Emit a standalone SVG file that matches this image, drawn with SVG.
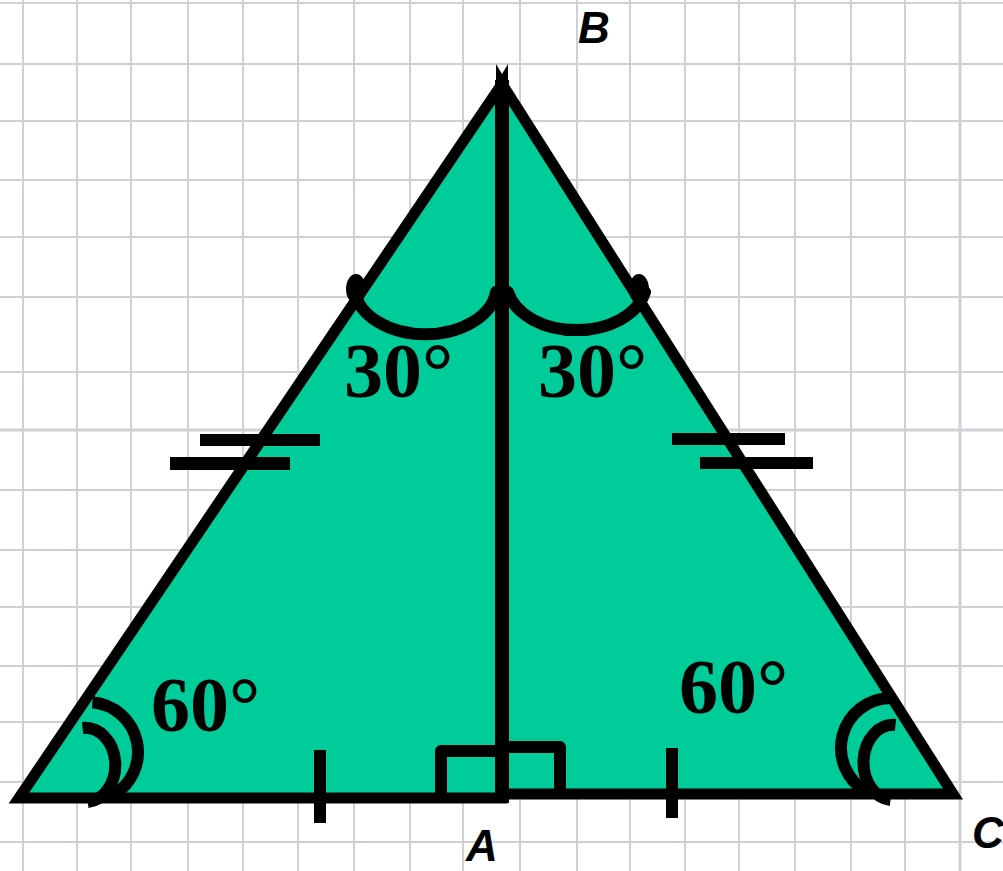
<svg xmlns="http://www.w3.org/2000/svg" width="1003" height="871" viewBox="0 0 1003 871">
<style>
.grid line{stroke:#cfcfd6;stroke-width:2}
.ink{fill:none;stroke:#000;stroke-width:12}
.deg{font-family:"Liberation Serif","Times New Roman",serif;font-weight:bold;font-size:78px;fill:#000}
.lbl{font-family:"Liberation Sans",Arial,sans-serif;font-weight:bold;font-style:italic;font-size:44px;fill:#000}
</style>
<rect width="1003" height="871" fill="#ffffff"/>
<g id="grid" class="grid">
<line x1="23" y1="0" x2="23" y2="871"/><line x1="77" y1="0" x2="77" y2="871"/><line x1="131" y1="0" x2="131" y2="871"/><line x1="188" y1="0" x2="188" y2="871"/><line x1="243" y1="0" x2="243" y2="871"/><line x1="298" y1="0" x2="298" y2="871"/><line x1="354" y1="0" x2="354" y2="871"/><line x1="410" y1="0" x2="410" y2="871"/><line x1="463" y1="0" x2="463" y2="871"/><line x1="520" y1="0" x2="520" y2="871"/><line x1="577" y1="0" x2="577" y2="871"/><line x1="630" y1="0" x2="630" y2="871"/><line x1="685" y1="0" x2="685" y2="871"/><line x1="739" y1="0" x2="739" y2="871"/><line x1="795" y1="0" x2="795" y2="871"/><line x1="851" y1="0" x2="851" y2="871"/><line x1="905" y1="0" x2="905" y2="871"/><line x1="960" y1="0" x2="960" y2="871" style="stroke-width:3"/>
<line x1="0" y1="3" x2="1003" y2="3"/><line x1="0" y1="64" x2="1003" y2="64"/><line x1="0" y1="121" x2="1003" y2="121"/><line x1="0" y1="180" x2="1003" y2="180"/><line x1="0" y1="237" x2="1003" y2="237"/><line x1="0" y1="297" x2="1003" y2="297"/><line x1="0" y1="372" x2="1003" y2="372"/><line x1="0" y1="430" x2="1003" y2="430" style="stroke-width:3"/><line x1="0" y1="490" x2="1003" y2="490"/><line x1="0" y1="550" x2="1003" y2="550"/><line x1="0" y1="607" x2="1003" y2="607"/><line x1="0" y1="666" x2="1003" y2="666"/><line x1="0" y1="722" x2="1003" y2="722"/><line x1="0" y1="782" x2="1003" y2="782"/><line x1="0" y1="842" x2="1003" y2="842"/>
</g>
<g id="triangle">
<polygon points="19,798 502,798 502,794 953,794 502,84" fill="#00CC99" stroke="#000" stroke-width="11" stroke-linejoin="miter" stroke-miterlimit="10"/>
</g>
<g id="median">
<line x1="502" y1="80" x2="502" y2="803" stroke="#000" stroke-width="14"/>
<polygon points="496,64 502,74 508,64 508,84 496,84" fill="#000"/>
</g>
<g id="marks">
<path class="ink" d="M441 798 V751 H502" stroke-width="11" stroke-linejoin="round"/>
<path class="ink" d="M502 747 H560 V794" stroke-width="11" stroke-linejoin="round"/>
<line x1="320" y1="750" x2="320" y2="823" stroke="#000" stroke-width="12"/>
<line x1="672" y1="748" x2="672" y2="818" stroke="#000" stroke-width="12"/>
<rect x="200" y="434" width="120" height="12" fill="#000"/>
<rect x="170" y="457" width="120" height="13" fill="#000"/>
<rect x="672" y="433" width="113" height="12" fill="#000"/>
<rect x="700" y="457" width="113" height="12" fill="#000"/>
</g>
<g id="angle-B">
<path class="ink" d="M355 292 A71 48 0 0 0 496 292" stroke-linecap="round"/>
<path class="ink" d="M508 292 A70 48 0 0 0 645 292" stroke-linecap="round"/>
<ellipse cx="356" cy="289" rx="10" ry="15" fill="#000"/>
<ellipse cx="639" cy="289" rx="10" ry="15" fill="#000"/>
</g>
<g id="angle-left">
<path class="ink" d="M92.4 702.2 A50 50 0 0 1 113 795.3"/>
<path class="ink" d="M82.6 728 A30 37 0 0 1 87.8 802"/>
</g>
<g id="angle-right">
<path class="ink" d="M890 698 A50 50 0 0 0 866 791.3"/>
<path class="ink" d="M895.5 725 A29 37 0 0 0 890.5 800"/>
</g>
<g id="labels">
<text class="deg" x="344" y="397">30°</text>
<text class="deg" x="538" y="397">30°</text>
<text class="deg" x="151" y="731">60°</text>
<text class="deg" x="679" y="713">60°</text>
<text class="lbl" x="578" y="43">B</text>
<text class="lbl" x="466" y="861">A</text>
<text class="lbl" x="972" y="848">C</text>
</g>
</svg>
